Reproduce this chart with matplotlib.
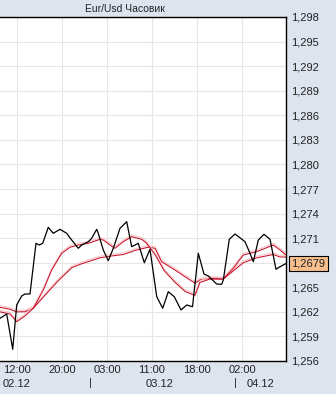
import matplotlib
matplotlib.use("Agg")
import matplotlib.pyplot as plt
import matplotlib.patheffects as pe
from matplotlib.transforms import blended_transform_factory

# bar index (hours from 02.12 12:00) and closes of the hourly EUR/USD
t_close = [-3.02, -1.83, -0.76, -0.05, 0.84, 1.42, 2.31, 3.38, 3.96, 4.57, 5.56, 6.45,
           7.64, 8.84, 9.72, 10.90, 11.50, 12.68, 13.28, 14.17, 14.45, 15.34, 16.23,
           17.12, 18.31, 19.50, 20.39, 20.98, 21.56, 22.63, 23.64, 24.84, 25.90, 26.90,
           27.96, 29.16, 30.17, 31.20, 32.23, 33.24, 34.01, 35.50, 36.39, 36.68, 37.74,
           38.76, 40.53, 41.30, 42.01, 42.90, 43.91, 44.98, 46.04, 46.76, 47.82]
close = [1.26121, 1.26174, 1.25743, 1.26284, 1.26394, 1.26418, 1.26418, 1.27037, 1.27016,
         1.27037, 1.27232, 1.27159, 1.27208, 1.27159, 1.27077, 1.26976, 1.27016, 1.27057,
         1.27098, 1.27208, 1.27159, 1.26955, 1.26825, 1.26976, 1.27220, 1.27301, 1.26996,
         1.27016, 1.27037, 1.26800, 1.26964, 1.26385, 1.26244, 1.26446, 1.26385, 1.26223,
         1.26284, 1.26263, 1.26915, 1.26662, 1.26638, 1.26540, 1.26537, 1.26589, 1.27086,
         1.27151, 1.27057, 1.26935, 1.26812, 1.27077, 1.27147, 1.27086, 1.26720, 1.26751,
         1.26790]

# fast moving average
t_fast = [-3.02, -1.24, -0.05, 1.42, 2.90, 4.68, 6.17, 7.95, 9.42, 10.90, 12.68, 14.76,
          15.34, 16.53, 17.42, 18.90, 20.39, 22.17, 23.00, 24.53, 26.2, 28.09, 29.87,
          31.64, 32.53, 34.31, 36.68, 38.45, 40.23, 42.61, 45.56, 46.76, 47.82]
fast = [1.26200, 1.26174, 1.26080, 1.26150, 1.26244, 1.26467, 1.26711, 1.26915, 1.26988,
        1.27016, 1.27037, 1.27086, 1.27077, 1.27016, 1.26976, 1.27057, 1.27118, 1.27086,
        1.27040, 1.26900, 1.26700, 1.26560, 1.26450, 1.26400, 1.26560, 1.26600, 1.26600,
        1.26732, 1.26894, 1.26935, 1.27016, 1.26955, 1.26894]

# slow moving average
t_slow = [-3.02, -1.24, -0.05, 1.42, 2.90, 4.68, 7.34, 9.76, 11.20, 14.76, 16.53, 18.90,
          21.00, 23.34, 24.53, 25.72, 28.09, 29.87, 31.64, 32.53, 34.31, 36.68, 38.45,
          40.23, 42.61, 45.56, 46.76, 47.82]
slow = [1.26256, 1.26231, 1.26200, 1.26202, 1.26244, 1.26380, 1.26580, 1.26740, 1.26780,
        1.26860, 1.26880, 1.26900, 1.26950, 1.26990, 1.26976, 1.26812, 1.26711, 1.26629,
        1.26549, 1.26590, 1.26610, 1.26600, 1.26700, 1.26800, 1.26860, 1.26900, 1.26870,
        1.26870]

y_ticks = [1.256, 1.259, 1.262, 1.265, 1.268, 1.271, 1.274, 1.277, 1.280, 1.283,
           1.286, 1.289, 1.292, 1.295, 1.298]
x_ticks = [0, 8, 16, 24, 32, 40]
x_labels = ["12:00", "20:00", "03:00", "11:00", "18:00", "02:00"]
days = ["02.12", "03.12", "04.12"]
last_price = 1.2679

bg = "#dde4ee"
fig = plt.figure(figsize=(3.36, 3.94), dpi=100, facecolor=bg)
plt.rcParams['font.family'] = ['Liberation Sans', 'DejaVu Sans']
ax = fig.add_axes([0.0, 1 - 361 / 394, 286 / 336, (361 - 17) / 394])
ax.set_facecolor("white")

shadow = [pe.SimpleLineShadow(offset=(0, 1.2), shadow_color="#f8c4c4", alpha=1.0), pe.Normal()]
ax.plot(t_slow, slow, color="#c8102a", lw=0.75, path_effects=shadow, zorder=3)
ax.plot(t_fast, fast, color="#c8102a", lw=0.75, path_effects=shadow, zorder=3)
ax.plot(t_close, close, color="black", lw=0.9, zorder=4)

ax.set_xlim(-3.02, 47.82)
ax.set_ylim(1.256, 1.298)
ax.set_yticks(y_ticks)
# the price tag covers the 1,268 label
ax.set_yticklabels(["" if abs(v - 1.268) < 1e-6 else f"{v:.3f}".replace(".", ",") for v in y_ticks])
ax.set_xticks(x_ticks)
ax.set_xticklabels(x_labels)
ax.yaxis.tick_right()
ax.tick_params(axis="both", length=0, labelsize=8, colors="#222222")
ax.tick_params(axis="y", pad=4)
ax.tick_params(axis="x", pad=3)
ax.grid(True, color="#e6e6e6", lw=0.8)
ax.set_axisbelow(True)
for side in ["top", "right", "bottom"]:
    ax.spines[side].set_color("black")
    ax.spines[side].set_linewidth(1.0)
ax.spines["left"].set_visible(False)

tr = blended_transform_factory(ax.transData, fig.transFigure)
day_y = 1 - 384 / 394
for pos, lab in zip([0, 25.4, 43.2], days):
    ax.text(pos, day_y, lab, transform=tr, ha="center", va="center", fontsize=8, color="#222222")
for pos in [13, 38.8]:
    ax.text(pos, day_y + 0.003, "|", transform=tr, ha="center", va="center", fontsize=8, color="#222222")

fig.text(125 / 336, 1 - 9 / 394, "Eur/Usd Часовик", ha="center", va="center", fontsize=7.5, color="#222222")

# current price tag
ax.annotate(f"{last_price:.4f}".replace(".", ","), xy=(1.0, last_price), xycoords=("axes fraction", "data"),
            xytext=(4, 0), textcoords="offset points", ha="left", va="center", fontsize=8, color="#222222",
            bbox=dict(boxstyle="square,pad=0.25", fc="#f8bf8e", ec="black", lw=0.8))

fig.savefig("out.png", dpi=100, facecolor=bg)
